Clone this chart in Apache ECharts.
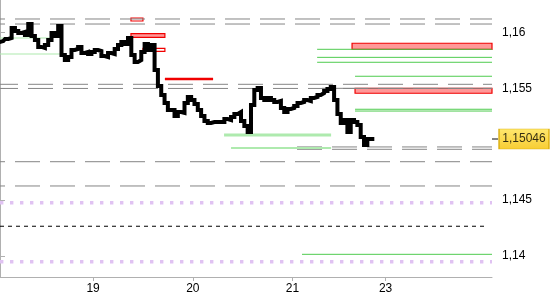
<!DOCTYPE html>
<html><head><meta charset="utf-8">
<script src="https://cdn.jsdelivr.net/npm/echarts@6/dist/echarts.min.js"></script>
<style>html,body{margin:0;padding:0;background:#fff}#c{width:550px;height:300px}</style>
</head><body><div id="c"></div><script>
// time index: 30 units per trading day
const price = [1.15913,1.15922,1.1594,1.15949,1.16039,1.16012,1.15994,1.16003,1.15976,1.16074,
1.15967,1.15931,1.15869,1.1586,1.15887,1.15931,1.15994,1.15967,1.16056,1.15797,
1.15752,1.15779,1.15842,1.15851,1.15869,1.15815,1.15824,1.15806,1.15824,1.15842,
1.15833,1.15788,1.15779,1.15815,1.15806,1.15851,1.15887,1.15913,1.15895,1.15949,
1.15797,1.15735,1.15752,1.15824,1.15895,1.15842,1.15887,1.15663,1.1552,1.1544,
1.15368,1.15305,1.15305,1.15252,1.15287,1.15279,1.15368,1.15422,1.15395,1.15359,
1.15305,1.15252,1.15207,1.15189,1.15198,1.15198,1.15198,1.15198,1.15225,1.15216,
1.15243,1.1527,1.15287,1.15207,1.15162,1.15109,1.1535,1.15484,1.15502,1.15413,
1.15395,1.15413,1.15395,1.15377,1.15386,1.15323,1.15287,1.15314,1.15323,1.15341,
1.15368,1.15377,1.15395,1.15386,1.15413,1.15422,1.1544,1.15457,1.15475,1.15493,
1.15511,1.15395,1.1527,1.15189,1.15216,1.15109,1.15216,1.15198,1.15171,1.15064,
1.14992,1.15046,1.15046];
const lastPrice = 1.15046;
const lastPriceText = '1,15046';
const xMax = 148;
const dayPos = [28, 58, 88, 116];
const dayLabels = ['19', '20', '21', '23'];
const yTicks = [1.14, 1.145, 1.155, 1.16];

const grayDashFull = [1.16119, 1.16074, 1.15535, 1.15498, 1.14843, 1.14626];
const grayDashPhase = [20, 20, 7, 7, 20, 20];
const grayDashLate = [1.14975, 1.14954];
const grayDashLateStart = 89.35;
const graySolid = {v: 1.15499, from: 96.9};
const dottedLevels = [1.14477, 1.13949];
const blackDashLevel = 1.14266;
const blackDashEnd = 146.5;
const greenLevels = [
  {v: 1.15848, from: 95.4}, {v: 1.15776, from: 95.4}, {v: 1.15732, from: 95.4},
  {v: 1.15607, from: 106.8}, {v: 1.15312, from: 106.8}, {v: 1.15296, from: 106.8},
  {v: 1.14015, from: 90.85}
];
const lightGreenLevels = [
  {v: 1.15949, from: 0, to: 15.0, w: 1.2},
  {v: 1.15806, from: 0, to: 18.65, w: 1.2},
  {v: 1.15082, from: 67.4, to: 99.6, w: 3},
  {v: 1.14966, from: 69.5, to: 99.6, w: 2}
];
const redLine = {v: 1.15583, from: 49.6, to: 64.1};
const zones = [
  {from: 105.9, to: 148, hi: 1.15902, lo: 1.15848, fill: true},
  {from: 106.8, to: 148, hi: 1.15499, lo: 1.15455, fill: true},
  {from: 39.4, to: 43.0, hi: 1.16128, lo: 1.16101, fill: false},
  {from: 39.4, to: 49.6, hi: 1.15988, lo: 1.15955, fill: true},
  {from: 43.0, to: 49.6, hi: 1.15857, lo: 1.1583, fill: false}
];

function hline(x0, x1, v, ls, z) {
  return {type: 'line', data: [[x0, v], [x1, v]], showSymbol: false, symbol: 'none',
    silent: true, animation: false, lineStyle: ls, z: z || 2};
}
const series = [];
grayDashFull.forEach((v, i) => series.push(hline(0, xMax, v,
  {color: '#858585', width: 1, type: [25, 10], dashOffset: grayDashPhase[i]})));
grayDashLate.forEach(v => series.push(hline(grayDashLateStart, xMax, v,
  {color: '#858585', width: 1, type: [25, 10], dashOffset: 0})));
series.push(hline(graySolid.from, xMax, graySolid.v, {color: '#858585', width: 1}));
dottedLevels.forEach(v => series.push(hline(0, xMax, v,
  {color: '#e0c2f2', width: 3.5, type: [3.4, 6.6]})));
series.push(hline(0, blackDashEnd, blackDashLevel, {color: '#000', width: 1, type: [4, 4]}));
greenLevels.forEach(g => series.push(hline(g.from, xMax, g.v, {color: '#4fcb4f', width: 1})));
lightGreenLevels.forEach(g => series.push(hline(g.from, g.to, g.v, {color: '#aeeaae', width: g.w})));
series.push(hline(redLine.from, redLine.to, redLine.v, {color: '#f00000', width: 2.6}, 3));
series.push({type: 'line', data: [], silent: true, animation: false, z: 3,
  markArea: {silent: true, animation: false,
    data: zones.map(zn => [
      {coord: [zn.from, zn.hi], itemStyle: {color: zn.fill ? '#ff9898' : 'rgba(255,255,255,0)', borderColor: '#f00000', borderWidth: 1.2}},
      {coord: [zn.to, zn.lo]}
    ])}});
series.push({type: 'line', data: price.map((p, i) => [i, p]), showSymbol: false, symbol: 'none', step: 'middle',
  lineStyle: {color: '#000', width: 4, join: 'miter', cap: 'square'}, z: 10, animation: false, silent: true});
series.push({type: 'scatter', data: [[xMax, lastPrice]], clip: false, z: 20, animation: false, silent: true,
  symbol: 'rect', symbolSize: [50, 20], symbolOffset: [32, 0],
  itemStyle: {color: new echarts.graphic.LinearGradient(0, 0, 0, 1, [{offset: 0, color: '#ffe24a'}, {offset: 1, color: '#f5c000'}]),
    borderColor: '#d6a800', borderWidth: 1},
  label: {show: true, position: 'inside', formatter: lastPriceText, color: '#000',
    fontFamily: 'Liberation Sans', fontSize: 12}});
series.push({type: 'scatter', data: [[xMax, lastPrice]], clip: false, z: 19, animation: false, silent: true,
  symbol: 'rect', symbolSize: [6, 1.2], symbolOffset: [3, 0], itemStyle: {color: '#000'}});

const chart = echarts.init(document.getElementById('c'), null, {renderer: 'canvas'});
chart.setOption({
  animation: false,
  grid: {left: 0, right: 58, top: 0, bottom: 23, containLabel: false},
  xAxis: {type: 'value', min: 0, max: xMax, splitLine: {show: false},
    axisLine: {show: true, lineStyle: {color: '#b0b0b0'}},
    axisTick: {show: true, customValues: dayPos, length: 4, lineStyle: {color: '#b0b0b0'}},
    axisLabel: {customValues: dayPos, color: '#000', fontFamily: 'Liberation Sans', fontSize: 12, margin: 6,
      formatter: v => dayLabels[dayPos.indexOf(Math.round(v))] || ''}},
  yAxis: {type: 'value', position: 'right', min: 1.138122, max: 1.162888, scale: true,
    splitLine: {show: false},
    axisLine: {show: true, lineStyle: {color: '#b0b0b0'}},
    axisTick: {show: true, customValues: yTicks, length: 5, lineStyle: {color: '#b0b0b0'}},
    axisLabel: {customValues: yTicks, color: '#000', fontFamily: 'Liberation Sans', fontSize: 12, margin: 10,
      formatter: v => String(+v.toFixed(3)).replace('.', ',')}},
  series: series
});
</script></body></html>
